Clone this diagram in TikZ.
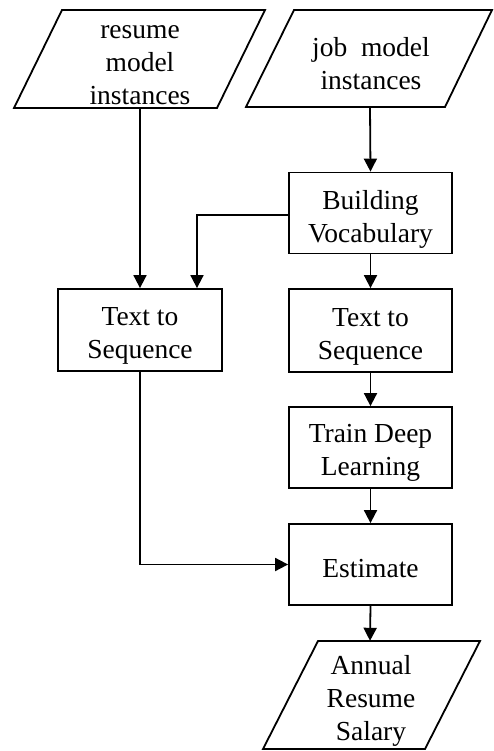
\documentclass[tikz,border=0pt]{standalone}
\usepackage{fontspec}
\setmainfont{Liberation Serif}
\usetikzlibrary{arrows.meta}
\begin{document}
\begin{tikzpicture}[x=1pt,y=-1pt,
  txt/.style={align=center,inner sep=0pt,font=\fontsize{27.5}{33}\selectfont},
  procbox/.style={draw,line width=1.8pt,minimum width=163pt,minimum height=81pt,inner sep=0pt},
  para/.style={draw,line width=1.8pt,line join=miter},
  anchorbox/.style={inner sep=0pt,minimum width=150pt},
  arr/.style={draw,line width=1.8pt,-{Triangle[length=13pt,width=13pt]}}]
\useasboundingbox (0,0) rectangle (493,751);
% parallelograms
\draw[para] (62,10) -- (265,10) -- (217,108) -- (14,108) -- cycle;
\draw[para] (294,10) -- (492,10) -- (445,107) -- (246,107) -- cycle;
\draw[para] (318,641) -- (480,641) -- (425,749) -- (263,749) -- cycle;
\node[anchorbox,minimum height=98pt] (res) at (140,59) {};
\node[anchorbox,minimum height=97pt] (job) at (370,58.5) {};
\node[anchorbox,minimum height=108pt] (ann) at (370,695) {};
\node[txt] (rest) at (140,65) {resume\\model\\instances};
\node[txt] (jobt) at (371,63.5) {job\ \ model\\instances};
\node[txt] (annt) at (371,701) {Annual\\Resume\\Salary};
% boxes
\node[procbox] (bv) at (370.5,213) {};
\node[procbox,minimum width=164pt,minimum height=82pt] (tsl) at (140,330) {};
\node[procbox,minimum height=83pt] (tsr) at (370.5,330.5) {};
\node[procbox] (tdl) at (370.5,447.5) {};
\node[procbox] (est) at (370.5,564.5) {};
\node[txt] (bvt) at (370.5,219) {Building\\Vocabulary};
\node[txt] (tslt) at (140,336) {Text to\\Sequence};
\node[txt] (tsrt) at (370.5,336.5) {Text to\\Sequence};
\node[txt] (tdlt) at (370.5,453) {Train Deep\\Learning};
\node[txt] (estt) at (370.5,569) {Estimate};
% connectors
\draw[arr] (res.south) -- (tsl.north);
\draw[arr] (job.south) -- (bv.north);
\draw[arr] ([yshift=-2pt]bv.west) -| ([xshift=57pt]tsl.north);
\draw[arr] (bv.south) -- (tsr.north);
\draw[arr] (tsr.south) -- (tdl.north);
\draw[arr] (tdl.south) -- (est.north);
\draw[arr] (tsl.south) |- (est.west);
\draw[arr] (est.south) -- (ann.north);
\end{tikzpicture}
\end{document}
